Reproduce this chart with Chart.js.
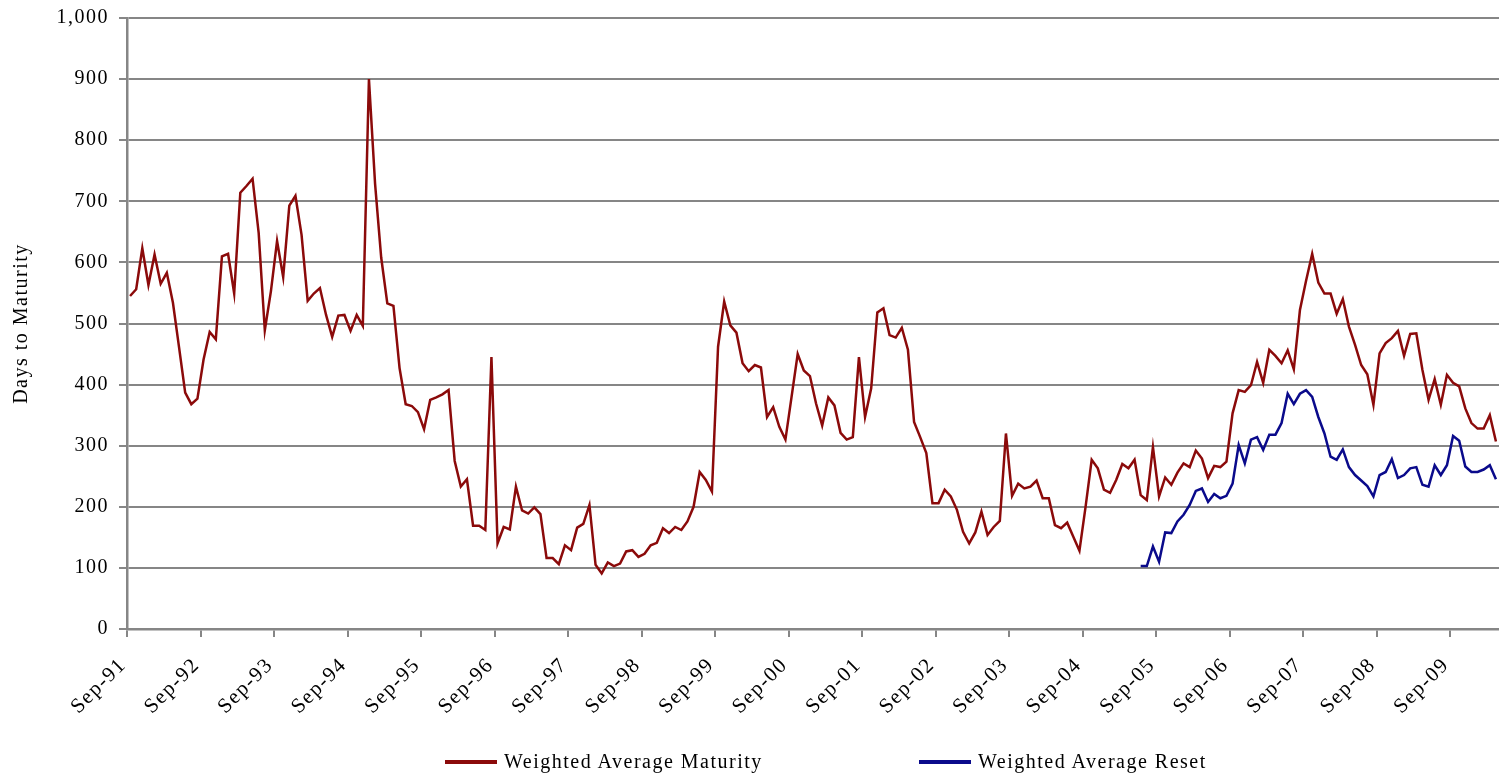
<!DOCTYPE html>
<html>
<head>
<meta charset="utf-8">
<script src="https://cdn.jsdelivr.net/npm/chart.js@4.4.1/dist/chart.umd.min.js"></script>
<style>
  html, body { margin: 0; padding: 0; background: #fff; }
  #wrap { position: relative; width: 1499px; height: 774px; }
  #legend { position: absolute; left: 0; top: 749px; width: 1499px; height: 24px;
            font-family: "Liberation Serif", "Times New Roman", serif; font-size: 20px;
            letter-spacing: 1.5px; color: #000; }
  .item { position: absolute; top: 0; line-height: 24px; white-space: nowrap; }
  .swatch { display: inline-block; width: 52px; height: 4px; vertical-align: middle; margin-right: 7px; margin-top: -3px; }
</style>
</head>
<body>
<div id="wrap">
  <canvas id="chart" width="1499" height="774"></canvas>
  <div id="legend"></div>
</div>
<script>
/******************* data *******************/
const monthNames = ['Jan','Feb','Mar','Apr','May','Jun','Jul','Aug','Sep','Oct','Nov','Dec'];
const startMonth = 8;   // Sep
const startYear = 1991;
const monthCount = 224;

// Weighted Average Maturity, monthly from Sep-91 (days)
const maturity = [
  545, 556, 623, 563, 613, 565, 583, 534, 461, 387,
  368, 377, 441, 486, 474, 610, 614, 549, 714, 725,
  737, 648, 489, 553, 635, 576, 693, 709, 645, 537,
  549, 558, 514, 478, 513, 514, 488, 514, 496, 900,
  729, 608, 533, 529, 427, 368, 365, 355, 327, 375,
  379, 384, 391, 275, 233, 245, 169, 169, 162, 445,
  140, 167, 163, 233, 194, 189, 199, 188, 116, 116,
  106, 137, 129, 166, 172, 203, 105, 91, 109, 103,
  107, 127, 129, 118, 123, 137, 141, 165, 157, 167,
  162, 176, 200, 257, 244, 225, 462, 536, 497, 485,
  435, 422, 432, 428, 347, 363, 331, 310, 380, 450,
  423, 414, 369, 333, 379, 366, 321, 310, 314, 445,
  347, 394, 518, 525, 481, 477, 493, 457, 339, 314,
  288, 206, 206, 228, 217, 195, 159, 140, 158, 192,
  154, 167, 177, 320, 218, 238, 230, 233, 243, 214,
  214, 170, 165, 174, 151, 128, 200, 277, 263, 228,
  223, 244, 270, 263, 277, 219, 211, 298, 217, 248,
  236, 256, 271, 265, 292, 279, 247, 267, 265, 274,
  353, 391, 388, 399, 437, 403, 457, 447, 435, 456,
  425, 522, 570, 614, 567, 549, 549, 516, 540, 495,
  465, 432, 417, 367, 451, 468, 476, 488, 447, 483,
  484, 424, 375, 409, 367, 416, 403, 397, 361, 337,
  328, 328, 350, 307
];

// Weighted Average Reset, starts Jun-05
const resetStart = 'Jun-05';
const reset = [
  103, 103, 135, 110, 158, 157, 176, 187, 203, 226,
  230, 208, 221, 214, 218, 238, 301, 271, 310, 314,
  293, 318, 318, 337, 385, 368, 385, 391, 380, 347,
  320, 282, 277, 294, 265, 252, 243, 234, 217, 252,
  257, 278, 247, 252, 263, 265, 236, 233, 268, 252,
  268, 316, 308, 266, 257, 257, 261, 268, 245
];

const tickLabels = ['Sep-91','Sep-92','Sep-93','Sep-94','Sep-95','Sep-96','Sep-97','Sep-98','Sep-99',
  'Sep-00','Sep-01','Sep-02','Sep-03','Sep-04','Sep-05','Sep-06','Sep-07','Sep-08','Sep-09'];

const seriesNames = ['Weighted Average Maturity', 'Weighted Average Reset'];
const seriesColors = ['#8b0a0a', '#0a0a8b'];

/******************* build *******************/
let months = [];
for (let i = 0; i < monthCount; i++) {
    let m = (startMonth + i) % 12;
    let y = startYear + Math.floor((startMonth + i) / 12);
    months.push(monthNames[m] + '-' + String(y % 100).padStart(2, '0'));
}
let resetData = new Array(months.indexOf(resetStart)).fill(null).concat(reset);

const FONT = '"Liberation Serif", "Times New Roman", serif';
Chart.defaults.font.family = FONT;
Chart.defaults.font.size = 20;
Chart.defaults.color = '#000';

const spacing = {
    id: 'spacing',
    beforeUpdate(chart) { chart.ctx.letterSpacing = '1.5px'; },
    beforeDraw(chart) { chart.ctx.letterSpacing = '1.5px'; }
};

const gridGrey = '#868686';

new Chart(document.getElementById('chart'), {
    type: 'line',
    data: {
        labels: months,
        datasets: [
            { label: seriesNames[0], data: maturity, borderColor: seriesColors[0], backgroundColor: seriesColors[0],
              borderWidth: 2.5, pointRadius: 0, tension: 0 },
            { label: seriesNames[1], data: resetData, borderColor: seriesColors[1], backgroundColor: seriesColors[1],
              borderWidth: 2.5, pointRadius: 0, tension: 0 }
        ]
    },
    options: {
        responsive: false,
        animation: false,
        layout: { padding: { top: 18, right: 0, bottom: 0, left: 0 } },
        plugins: {
            legend: { display: false },
            tooltip: { enabled: false }
        },
        scales: {
            x: {
                type: 'category',
                offset: true,
                grid: {
                    offset: true,
                    drawOnChartArea: false,
                    drawTicks: true,
                    tickLength: 8,
                    lineWidth: 2,
                    color: ctx => ctx.index % 12 === 0 ? gridGrey : 'rgba(0,0,0,0)'
                },
                border: { color: gridGrey, width: 2.5 },
                ticks: {
                    autoSkip: false,
                    minRotation: 45,
                    maxRotation: 45,
                    padding: 16,
                    labelOffset: -7,
                    font: { size: 21 },
                    callback: (v, i) => tickLabels.includes(months[i]) ? months[i] : ''
                },
                afterFit: scale => { scale.height = 145; scale.paddingRight = 0; }
            },
            y: {
                min: 0,
                max: 1000,
                ticks: { stepSize: 100, padding: 10 },
                grid: { color: gridGrey, lineWidth: 2, tickLength: 8 },
                border: { color: gridGrey, width: 2.5 },
                title: { display: true, text: 'Days to Maturity', padding: { top: 10, bottom: 0 } },
                afterFit: scale => { scale.width = 127; scale.paddingTop = 0; scale.paddingBottom = 0; }
            }
        }
    },
    plugins: [spacing]
});

/******************* legend *******************/
const legendLeft = [445, 919];
let legend = document.getElementById('legend');
seriesNames.forEach((name, k) => {
    let item = document.createElement('div');
    item.className = 'item';
    item.style.left = legendLeft[k] + 'px';
    item.innerHTML = '<span class="swatch" style="background:' + seriesColors[k] + '"></span>' + name;
    legend.append(item);
});
</script>
</body>
</html>
